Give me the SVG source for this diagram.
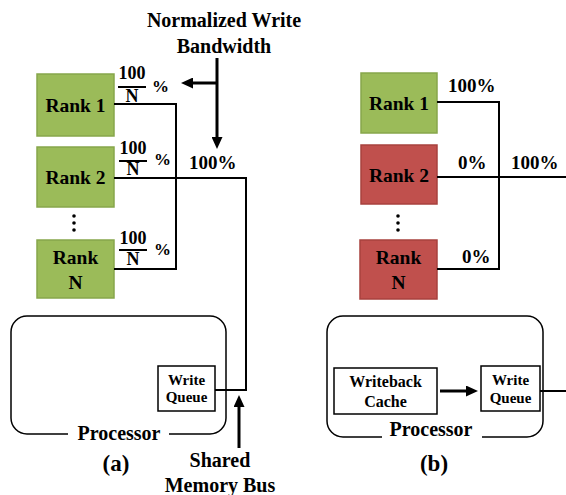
<svg xmlns="http://www.w3.org/2000/svg" width="566" height="495" viewBox="0 0 566 495">
  <style>
    text { font-weight: bold; fill: #000; }
    .rank-ok { fill: #9BBB59; stroke: #87A64B; stroke-width: 1.5; }
    .rank-off { fill: #C0504D; stroke: #A8413E; stroke-width: 1.5; }
    .lbl { font-size: 19.5px; text-anchor: middle; }
    .pct { font-size: 19px; }
    .frac { font-size: 18px; text-anchor: middle; }
    .small { font-size: 15px; text-anchor: middle; }
    .box { fill: #fff; stroke: #000; stroke-width: 1.5; }
    .proc { fill: none; stroke: #000; stroke-width: 1.5; }
    .wire { fill: none; stroke: #000; stroke-width: 2; }
    .arrow { fill: none; stroke: #000; stroke-width: 3; marker-end: url(#head); }
    .bar { stroke: #000; stroke-width: 2; }
  </style>
  <defs>
    <marker id="head" markerUnits="userSpaceOnUse" markerWidth="12" markerHeight="11" refX="0" refY="5.5" orient="auto">
      <path d="M0,0 L12,5.5 L0,11 z" fill="#000"/>
    </marker>
  </defs>

  <g font-family="Liberation Serif, Times New Roman, serif">
  <!-- Panel (a): all ranks share the write bandwidth -->
  <g id="a-title">
    <text x="224" y="27" style="font-size:20px" text-anchor="middle">Normalized Write</text>
    <text x="224" y="53" style="font-size:20px" text-anchor="middle">Bandwidth</text>
  </g>
  <g id="a-rank1">
    <rect class="rank-ok" x="37" y="74" width="77" height="62"/>
    <text class="lbl" x="75.5" y="112">Rank 1</text>
  </g>
  <g id="a-rank2">
    <rect class="rank-ok" x="37" y="147" width="77" height="60"/>
    <text class="lbl" x="75.5" y="184">Rank 2</text>
  </g>
  <g id="a-dots">
    <circle cx="74" cy="216" r="1.8"/>
    <circle cx="74" cy="223" r="1.8"/>
    <circle cx="74" cy="230" r="1.8"/>
  </g>
  <g id="a-rankN">
    <rect class="rank-ok" x="37" y="240" width="77" height="58"/>
    <text class="lbl" x="75.5" y="264">Rank</text>
    <text class="lbl" x="75.5" y="289">N</text>
  </g>
  <g id="a-processor">
    <path class="proc" d="M68,434 H27 A16,16 0 0 1 11,418 V332 A16,16 0 0 1 27,316 H210 A16,16 0 0 1 226,332 V418 A16,16 0 0 1 210,434 H169"/>
    <text x="119" y="440" style="font-size:20px" text-anchor="middle">Processor</text>
  </g>
  <g id="a-queue">
    <rect class="box" x="158" y="366" width="57" height="45"/>
    <text class="small" x="186.5" y="385">Write</text>
    <text class="small" x="186.5" y="402">Queue</text>
  </g>
  <g id="a-caption">
    <text x="116" y="471" style="font-size:23px" text-anchor="middle">(a)</text>
  </g>
  <g id="a-bus-label">
    <text x="220" y="467" style="font-size:20px" text-anchor="middle">Shared</text>
    <text x="220" y="492" style="font-size:20px" text-anchor="middle">Memory Bus</text>
  </g>

  <!-- Panel (b): writes focused on one rank -->
  <g id="b-rank1">
    <rect class="rank-ok" x="361" y="73" width="76" height="60"/>
    <text class="lbl" x="399" y="110">Rank 1</text>
  </g>
  <g id="b-rank2">
    <rect class="rank-off" x="361" y="145" width="76" height="59"/>
    <text class="lbl" x="399" y="182">Rank 2</text>
  </g>
  <g id="b-dots">
    <circle cx="398" cy="216" r="1.8"/>
    <circle cx="398" cy="223" r="1.8"/>
    <circle cx="398" cy="230" r="1.8"/>
  </g>
  <g id="b-rankN">
    <rect class="rank-off" x="360" y="240" width="77" height="59"/>
    <text class="lbl" x="398.5" y="264">Rank</text>
    <text class="lbl" x="398.5" y="289">N</text>
  </g>
  <g id="b-processor">
    <path class="proc" d="M382,437 H343 A16,16 0 0 1 327,421 V332 A16,16 0 0 1 343,316 H527 A16,16 0 0 1 543,332 V421 A16,16 0 0 1 527,437 H482"/>
    <text x="431" y="436" style="font-size:20px" text-anchor="middle">Processor</text>
  </g>
  <g id="b-cache">
    <rect class="box" x="334" y="368" width="103" height="46"/>
    <text x="385.5" y="387" style="font-size:16px" text-anchor="middle">Writeback</text>
    <text x="385.5" y="407" style="font-size:16px" text-anchor="middle">Cache</text>
  </g>
  <g id="b-queue">
    <rect class="box" x="481" y="366" width="59" height="45"/>
    <text class="small" x="510.5" y="385">Write</text>
    <text class="small" x="510.5" y="403">Queue</text>
  </g>
  <g id="b-caption">
    <text x="434" y="471" style="font-size:23px" text-anchor="middle">(b)</text>
  </g>

  <!-- Connectors -->
  <g id="connectors">
    <!-- (a) rank wires into the bus -->
    <path class="wire" d="M114,104 H176 V269 H114"/>
    <path class="wire" d="M114,178 H246 V390 H215"/>
    <!-- (a) bandwidth pointers -->
    <path class="arrow" d="M217,58 V137"/>
    <path class="arrow" d="M217,83 H193"/>
    <path class="arrow" d="M239,448 V407"/>
    <!-- (b) rank wires into the bus -->
    <path class="wire" d="M437,102 H499 V269 H437"/>
    <path class="wire" d="M437,177 H566"/>
    <path class="wire" d="M540,391 H566"/>
    <path class="arrow" d="M440,391 H466"/>
  </g>

  <!-- Bandwidth labels -->
  <g id="a-labels">
    <text class="frac" x="132" y="79">100</text>
    <line class="bar" x1="118" y1="87" x2="146" y2="87"/>
    <text class="frac" x="132" y="102">N</text>
    <text x="152" y="92" style="font-size:17px">%</text>

    <text class="frac" x="133" y="154">100</text>
    <line class="bar" x1="119" y1="161" x2="147" y2="161"/>
    <text class="frac" x="133" y="175">N</text>
    <text x="154" y="165" style="font-size:17px">%</text>

    <text class="frac" x="133" y="244">100</text>
    <line class="bar" x1="119" y1="250" x2="147" y2="250"/>
    <text class="frac" x="133" y="265">N</text>
    <text x="154" y="255" style="font-size:17px">%</text>

    <text class="pct" x="189" y="169">100%</text>
  </g>
  <g id="b-labels">
    <text class="pct" x="448" y="92">100%</text>
    <text class="pct" x="458" y="169">0%</text>
    <text class="pct" x="511" y="169">100%</text>
    <text class="pct" x="462" y="263">0%</text>
  </g>
  </g>
</svg>
